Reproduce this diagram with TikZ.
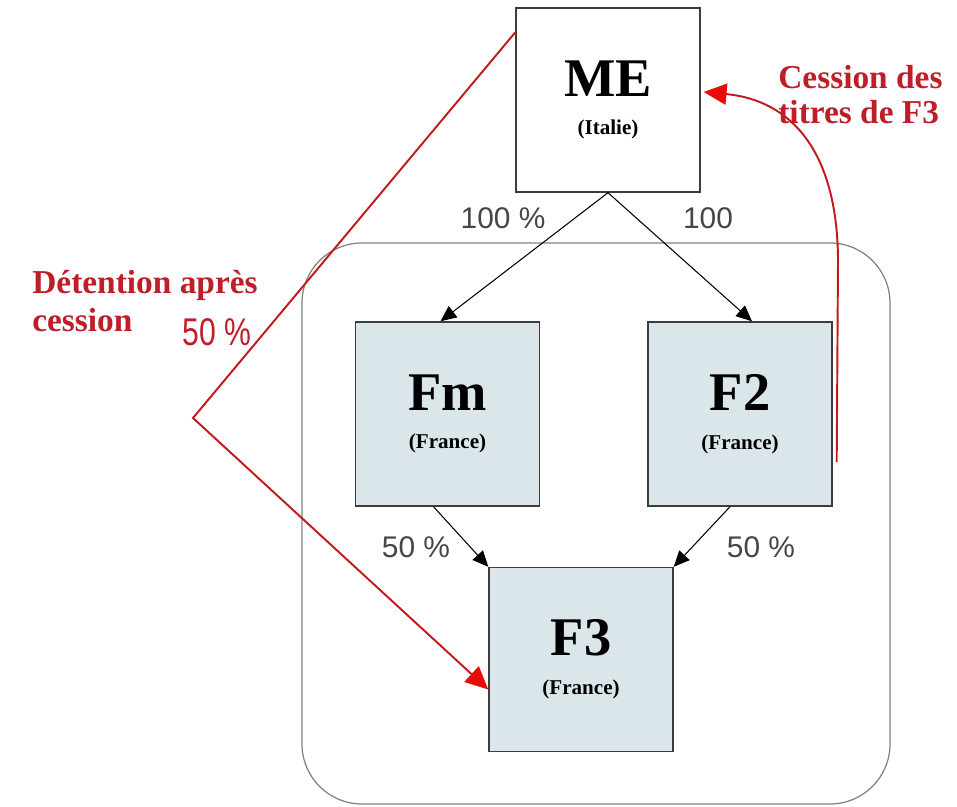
\documentclass[tikz,border=0pt]{standalone}
\usepackage{fontspec}
\setmainfont{Liberation Serif}
\newfontfamily\pctfont{Liberation Sans}
\usetikzlibrary{arrows.meta,calc}
\definecolor{boxfill}{RGB}{218,230,234}
\definecolor{boxline}{RGB}{60,60,60}
\definecolor{frameline}{RGB}{130,130,130}
\definecolor{redline}{RGB}{195,25,30}
\definecolor{redtip}{RGB}{235,10,10}
\definecolor{redtext}{RGB}{190,30,40}
\definecolor{pctgray}{RGB}{70,70,70}
\tikzset{
  entity/.style={draw=boxline,line width=0.8pt,minimum width=#1*0.02cm,minimum height=#1*0.02cm,align=center,inner sep=0pt},
  blackarrow/.style={draw=black,line width=0.6pt,-{Triangle[length=9pt,width=8pt]}},
  redarrow/.style={draw=redline,line width=1.1pt,-{Triangle[length=13pt,width=12pt,fill=redtip,color=redtip]}},
  pct/.style={font=\pctfont\fontsize{17}{20}\selectfont,text=pctgray,inner sep=0pt},
  redlabel/.style={font=\fontsize{19}{22}\selectfont\bfseries,text=redtext,inner sep=0pt,anchor=west}
}
\newcommand{\boxtitle}[2]{{\fontsize{31}{34}\selectfont\bfseries #1}\\[10pt]{\fontsize{12}{14}\selectfont\bfseries #2}}
\begin{document}
\begin{tikzpicture}[x=0.02cm,y=-0.02cm]
\useasboundingbox (0,0) rectangle (957,807);
\fill[white] (0,0) rectangle (957,807);
% frame
\draw[frameline,line width=0.7pt,rounded corners=60*0.02cm] (302,243) rectangle (890,804);
% boxes
\node[entity=184,fill=white] (ME) at (608,100) {\boxtitle{ME}{(Italie)}};
\node[entity=184,fill=boxfill] (Fm) at (447.5,414) {\boxtitle{Fm}{(France)}};
\node[entity=184,fill=boxfill] (F2) at (740,414) {\boxtitle{F2}{(France)}};
\node[entity=184,fill=boxfill] (F3) at (581,659.5) {\boxtitle{F3}{(France)}};
% black arrows
\draw[blackarrow] (ME.south) -- ($(Fm.north)+(-7,0)$);
\draw[blackarrow] (ME.south) -- ($(F2.north)+(12,0)$);
\draw[blackarrow] ($(Fm.south)+(-14,0)$) -- (F3.north west);
\draw[blackarrow] ($(F2.south)+(-10,0)$) -- (F3.north east);
% percentages
\node[pct] (p1) at (503,218) {100 \%};
\node[pct] (p2) at (708,218) {100};
\node[pct] (p3) at (416,547) {50 \%};
\node[pct] (p4) at (761,547) {50 \%};
% red arrows
\coordinate (bend) at (193,418);
\draw[redarrow] ($(ME.north west)+(0,25)$) -- (bend) -- ($(F3.west)+(0,30)$);
\coordinate (cstart) at ($(F2.east)+(4,48)$);
\draw[redarrow] (cstart) -- (838,262) .. controls (838,150) and (790,100) .. ($(ME.east)+(3,-8)$);
% red labels
\node[redlabel] (d1) at (32,285) {Détention après};
\node[redlabel] (d2) at (32,320) {cession};
\node[font=\pctfont\fontsize{22}{24}\selectfont,text=redtext,xscale=0.78,transform shape,inner sep=0pt] (d3) at (217,332) {50 \%};
\node[redlabel] (c1) at (778,77) {Cession des};
\node[redlabel] (c2) at (778,112) {titres de F3};
\end{tikzpicture}
\end{document}
